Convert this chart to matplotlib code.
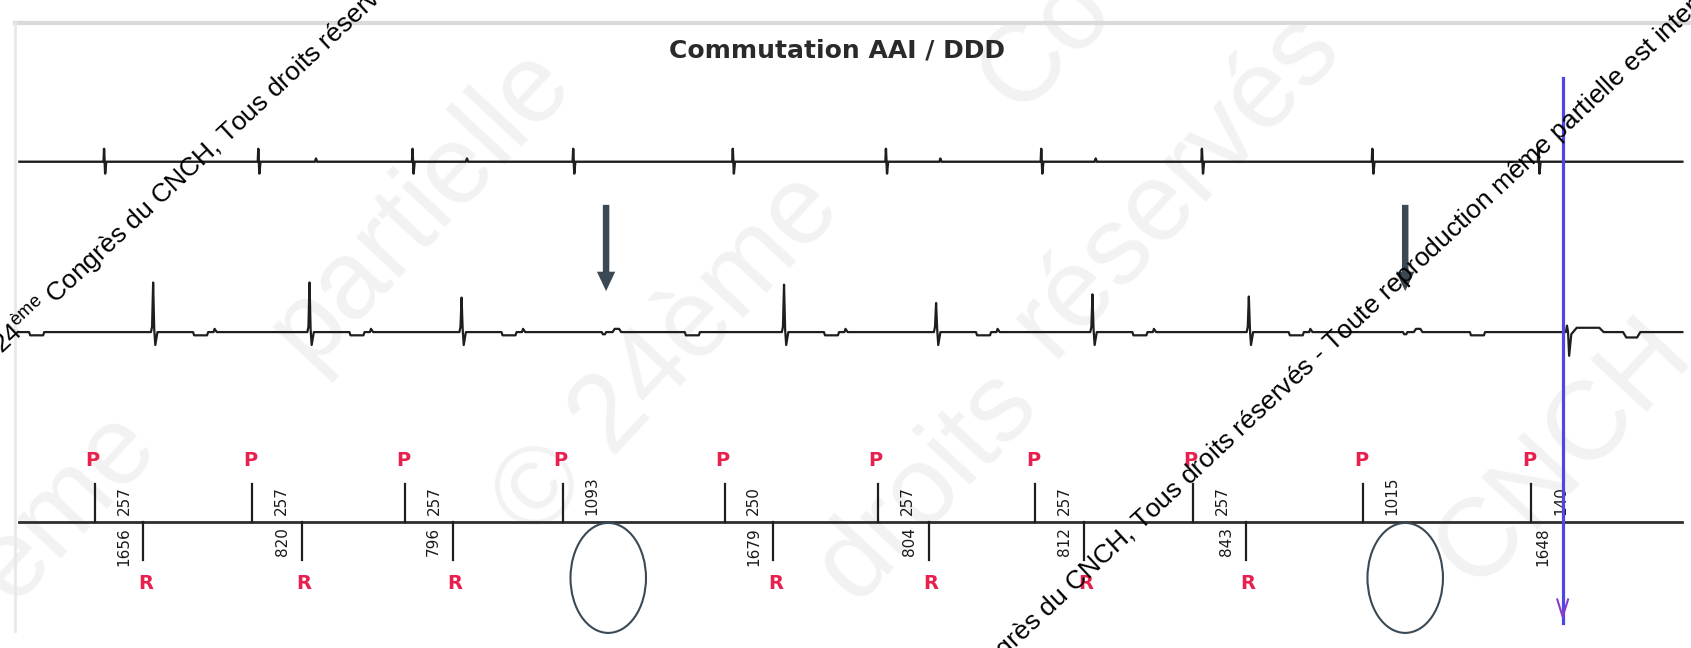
import matplotlib.pyplot as plt
from matplotlib.patches import Ellipse, FancyArrow

plt.rcParams['mathtext.fontset'] = 'custom'
plt.rcParams['mathtext.rm'] = 'Liberation Sans'

# positions are in screen pixels of the recording (x = time)
title = "Commutation AAI / DDD"
watermark = ("24$^{\\mathrm{ème}}$ Congrès du CNCH, Tous droits réservés - "
             "Toute reproduction même partielle est interdite")

# atrial channel: pacing spikes and far-field blips
a_spikes = [97, 240, 383, 532, 680, 822, 966, 1115, 1273, 1427]
a_blips = [293, 433, 872, 1016]

# ventricular channel: paced QRS and their heights
v_spikes = [142, 287, 428, 727, 868, 1013, 1158]
v_heights = [46, 46, 32, 44, 27, 35, 33]
v_pwaves = [560, 1303]          # beats without ventricular response
v_tdips = [28, 636, 1364]       # isolated T-wave dips
v_sensed = 1453                 # last (sensed) beat after the cursor

# marker channel
p_marks = [88, 234, 376, 522, 672, 814, 960, 1106, 1264, 1420]
r_marks = [133, 280, 420, None, 717, 861, 1005, 1155, None, 1449]
pr_labels = ["257", "257", "257", "1093", "250", "257", "257", "257", "1015", "140"]
rp_labels = ["1656", "820", "796", "", "1679", "804", "812", "843", "", "1648"]

arrow_x = [562, 1303]
circle_x = [564, 1303]
cursor_x = 1449

y_atrial, y_vent, y_mark = 150, 308, 484
x_start, x_end = 18, 1560

fig = plt.figure(figsize=(16.91, 6.48), dpi=100)
ax = fig.add_axes([0, 0, 1, 1])
ax.set_xlim(0, 1568)
ax.set_ylim(601, 0)
ax.axis('off')

# faint background watermark words
big = dict(color='#f2f2f2', fontsize=80, family='Liberation Sans', rotation=47,
           ha='center', va='center', zorder=0)
ax.text(60, 470, "ème", **big)
ax.text(390, 190, "partielle", **big)
ax.text(620, 330, "© 24ème", **big)
ax.text(970, 40, "Co", **big)
ax.text(1090, 170, "réservés", **big)
ax.text(860, 450, "droits", **big)
ax.text(1450, 420, "CNCH", **big)

# frame of the screenshot
ax.plot([14, 1568], [21, 21], color='#dadada', lw=3, zorder=1)
ax.plot([14, 14], [21, 585], color='#e8e8e8', lw=2, zorder=1)

ax.text(776, 47, title, ha='center', va='center', fontsize=18,
        fontweight='bold', color='#2a2a2a', family='DejaVu Sans')

# atrial trace
xs, ys = [x_start], [0]
events = sorted([(x, 'spike') for x in a_spikes] + [(x, 'blip') for x in a_blips])
for x, kind in events:
    if kind == 'spike':
        xs += [x - 1, x - 0.5, x + 0.5, x + 1.5]
        ys += [0, 12, -11, 0]
    else:
        xs += [x - 1, x, x + 1]
        ys += [0, 3, 0]
xs.append(x_end)
ys.append(0)
ax.plot(xs, [y_atrial - v for v in ys], color='#1e1e1e', lw=1.7, zorder=2)

# ventricular trace
events = [(x, 'qrs', h) for x, h in zip(v_spikes, v_heights)]
events += [(x, 'p', 0) for x in v_pwaves]
events += [(x, 'dip', 0) for x in v_tdips]
events.append((v_sensed, 'sensed', 0))
xs, ys = [x_start], [0]
for x, kind, h in sorted(events):
    if kind == 'qrs':
        xs += [x - 2, x - 1, x, x + 1, x + 2, x + 4,
               x + 37, x + 38, x + 50, x + 51, x + 56, x + 57, x + 59]
        ys += [0, 5, h, 3, -12, 0, 0, -3, -3, 0, 0, 3, 0]
    elif kind == 'p':
        xs += [x - 2, x - 1, x + 1, x + 2, x + 8, x + 10, x + 14, x + 16]
        ys += [0, -2, -2, 0, 0, 3, 3, 0]
    elif kind == 'dip':
        xs += [x - 1, x, x + 12, x + 13]
        ys += [0, -3, -3, 0]
    else:
        xs += [x - 1, x, x + 1, x + 2, x + 4, x + 9, x + 30, x + 34,
               x + 52, x + 55, x + 65, x + 68]
        ys += [0, 6, 0, -22, -2, 4, 4, 0, 0, -5, -5, 0]
xs.append(x_end)
ys.append(0)
ax.plot(xs, [y_vent - v for v in ys], color='#1e1e1e', lw=1.6, zorder=2)

# arrows pointing at the missing ventricular beats
for x in arrow_x:
    ax.add_patch(FancyArrow(x, 190, 0, 80, width=6, head_width=17, head_length=18,
                            length_includes_head=True, color='#3b4954', lw=0, zorder=3))

# marker channel
ax.plot([x_start, x_end], [y_mark, y_mark], color='#2e2e2e', lw=2, zorder=2)
lab = dict(color='#e8204e', fontsize=14, fontweight='bold', ha='center',
           va='center', family='DejaVu Sans', zorder=4)
num = dict(fontsize=11, rotation=90, ha='center', color='#1a1a1a',
           family='DejaVu Sans', zorder=4)
for p, r, t1, t2 in zip(p_marks, r_marks, pr_labels, rp_labels):
    ax.plot([p, p], [y_mark - 35, y_mark], color='#1e1e1e', lw=1.6, zorder=3)
    ax.text(p - 2, 427, "P", **lab)
    ax.text(p + 27, y_mark - 6, t1, va='bottom', **num)
    if r is not None:
        if r != cursor_x:
            ax.plot([r, r], [y_mark, y_mark + 35], color='#1e1e1e', lw=1.6, zorder=3)
            ax.text(r + 2, 541, "R", **lab)
        ax.text(r - 18, y_mark + 5, t2, va='top', **num)

for x in circle_x:
    ax.add_patch(Ellipse((x, 536), 70, 102, fill=False, edgecolor='#3b4954',
                         lw=1.5, zorder=3))

# cursor
ax.plot([cursor_x, cursor_x], [72, 578], color='#5046e6', lw=2.3, zorder=5)
ax.plot([cursor_x - 5, cursor_x, cursor_x + 5], [556, 572, 556],
        color='#8a3cc8', lw=1.5, zorder=5)

# overlaid small watermark text
wm = dict(fontsize=19, family='Liberation Sans', color='black', rotation=43,
          rotation_mode='anchor', ha='left', va='baseline', zorder=6)
ax.text(2, 329, watermark, clip_on=True, **wm)
ax.text(850, 688, watermark, clip_on=True, **wm)

fig.savefig('out.png', dpi=100)
